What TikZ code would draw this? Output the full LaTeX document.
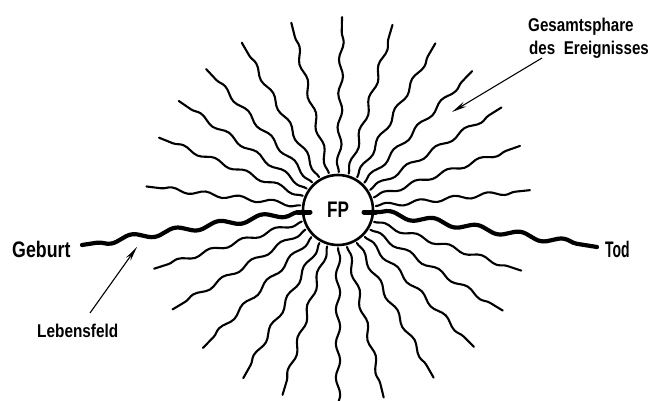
\documentclass[tikz,border=0pt]{standalone}
\usepackage{fontspec}
\setmainfont{Liberation Sans}
\usepackage{graphicx}
\usetikzlibrary{decorations.pathmorphing,arrows.meta}
\newcommand{\hsq}[2]{\scalebox{#1}[1]{#2}}
\begin{document}
\begin{tikzpicture}[x=1pt,y=1pt,
  ray/.style={line width=2.1pt, line cap=round, decorate,
    decoration={snake, segment length=34pt, amplitude=2.2pt}},
  lifeline/.style={line width=4.2pt, line cap=round, decorate,
    decoration={snake, segment length=44pt, amplitude=3pt}},
  stub/.style={line width=5pt, line cap=round},
  bigtext/.style={font=\bfseries\fontsize{22.5}{27}\selectfont, inner sep=0pt},
  smalltext/.style={font=\bfseries\fontsize{18.5}{23}\selectfont, inner sep=0pt},
  pointer/.style={line width=1.1pt, -{Stealth[length=15pt,width=5.5pt]}}
]
\useasboundingbox (0,0) rectangle (654,400);
\coordinate (C) at (338,190);
% rays
\foreach \a in {5.9,19.4,32.1,46.0,59.7,73.6,88.8,104.0,119.9,133.1,145.6,158.0,173.0,
                197.7,211.0,225.6,240.6,253.3,283.7,299.7,314.8,328.6,341.7}
  \draw[ray, shift={(C)}] (\a:38) -- (\a:193);
\draw[ray, shift={(C)}] (270:38) -- (270:205);
% circle with FP
\node[circle, draw, line width=2.6pt, minimum size=70pt, inner sep=0pt,
      font=\bfseries\fontsize{22.5}{27}\selectfont] (fp) at (C) {\hsq{0.76}{FP}};
% life line
\coordinate (lstubin) at (310,188);
\coordinate (lstubout) at (298,188);
\coordinate (gend) at (82,155);
\coordinate (rstubin) at (364,188);
\coordinate (rstubout) at (376,188);
\coordinate (tend) at (597,153);
\draw[stub] (lstubin) -- (lstubout);
\draw[stub] (rstubin) -- (rstubout);
\draw[lifeline] (lstubout) -- (gend);
\draw[lifeline] (rstubout) -- (tend);
% labels
\node[bigtext, anchor=base west] (geburt) at (12,143) {\hsq{0.79}{Geburt}};
\node[bigtext, anchor=base west] (tod) at (605,143) {\hsq{0.62}{Tod}};
\node[smalltext, anchor=base west] (leb) at (37,63) {\hsq{0.83}{Lebensfeld}};
\node[smalltext, anchor=base west] (gs1) at (528,368) {\hsq{0.82}{Gesamtsphare}};
\node[smalltext, anchor=base west] (gs2) at (529,345) {\hsq{0.82}{des\ \ Ereignisses}};
% pointers
\coordinate (gsfrom) at (542,342);
\coordinate (gsto) at (452,288);
\coordinate (lbfrom) at (90,87);
\coordinate (lbto) at (137,153);
\draw[pointer] (gsfrom) -- (gsto);
\draw[pointer] (lbfrom) -- (lbto);
\end{tikzpicture}
\end{document}
